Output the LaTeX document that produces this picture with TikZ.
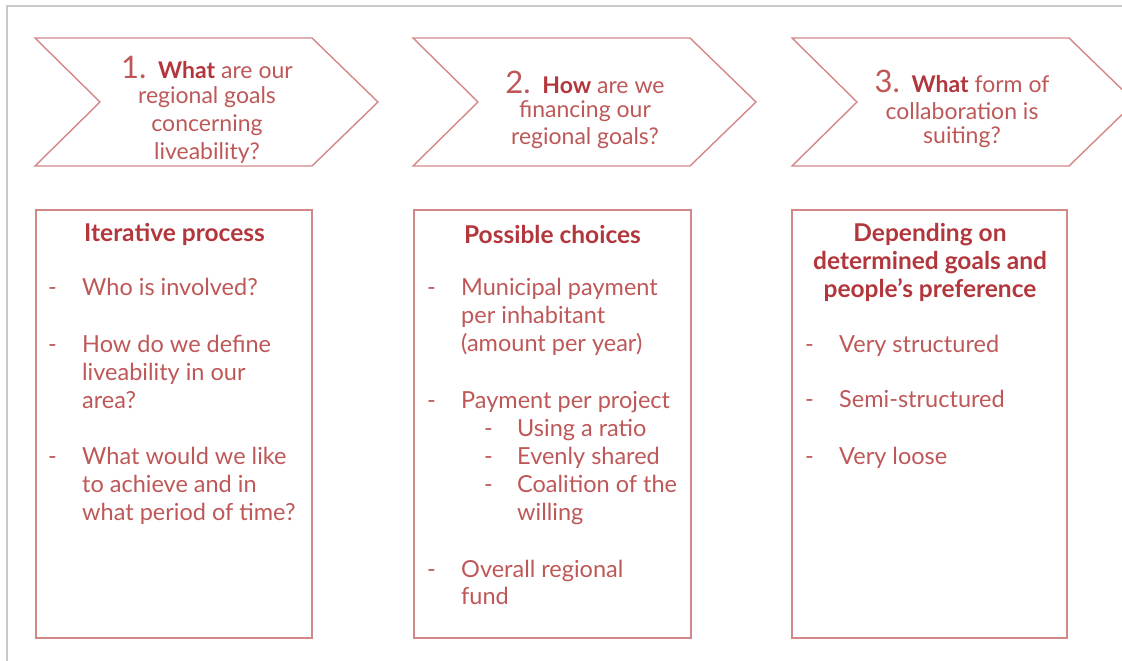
\documentclass[tikz,border=0pt]{standalone}
\usepackage{fontspec}
\setmainfont{Lato}
\definecolor{linecol}{RGB}{212,135,135}
\definecolor{txtcol}{RGB}{190,88,88}
\definecolor{boldcol}{RGB}{178,55,60}
\definecolor{framecol}{RGB}{200,200,200}
\tikzset{
  chev/.style={draw=linecol, line width=1.4pt, line join=miter},
  boxst/.style={draw=linecol, line width=1.4pt, rectangle, inner sep=0pt},
  ctxt/.style={font=\fontsize{23}{28}\selectfont, text=txtcol, inner sep=0pt, yshift=-1.5pt},
  txt/.style={font=\fontsize{23.5}{28}\selectfont, text=txtcol, inner sep=0pt, yshift=-4.5pt},
  ttl/.style={font=\fontsize{24.5}{28}\selectfont\bfseries, text=boldcol, inner sep=0pt, yshift=-2pt},
  hyph/.style={txt, anchor=mid west},
  item/.style={txt, anchor=mid west},
}
\newcommand{\bignum}[1]{{\fontsize{31}{31}\selectfont #1}}
\newcommand{\bw}[1]{{\bfseries\color{boldcol}#1}}
\begin{document}
\begin{tikzpicture}[x=1pt,y=-1pt]
\useasboundingbox (0,0) rectangle (1122,661);
% outer frame
\draw[framecol, line width=1.5pt] (7,661) -- (7,6) -- (1122,6);
% chevrons
\foreach \L/\n in {35/1,413/2,792/3}{
  \draw[chev] (\L,38) -- (\L+277,38) -- (\L+343,102) -- (\L+277,166) -- (\L,166) -- (\L+65,102) -- cycle;
  \coordinate (chev\n) at (\L+171,102);
}
% chevron texts
\node[ctxt] (c1a) at (207,66) {\bignum{1.}\, \bw{What} are our};
\node[ctxt] (c1b) at (207,96) {regional goals};
\node[ctxt] (c1c) at (207,124) {concerning};
\node[ctxt] (c1d) at (207,152) {liveability?};
\node[ctxt] (c2a) at (585,81) {\bignum{2.}\, \bw{How} are we};
\node[ctxt] (c2b) at (585,110) {financing our};
\node[ctxt] (c2c) at (585,137) {regional goals?};
\node[ctxt] (c3a) at (962,80) {\bignum{3.}\, \bw{What} form of};
\node[ctxt] (c3b) at (962,110) {collaboration is};
\node[ctxt] (c3c) at (962,136) {suiting?};
% boxes
\node[boxst, minimum width=276pt, minimum height=428pt] (box1) at (174,424) {};
\node[boxst, minimum width=277pt, minimum height=428pt] (box2) at (552.5,424) {};
\node[boxst, minimum width=275pt, minimum height=428pt] (box3) at (929.5,424) {};
% box 1
\node[ttl] (t1) at (174.5,232) {Iterative process};
\node[hyph] (d1a) at (48,288) {-};
\node[item] (i1a) at (82,288) {Who is involved?};
\node[hyph] (d1b) at (48,345) {-};
\node[item] (i1b) at (82,345) {How do we define};
\node[item] (i1c) at (82,373) {liveability in our};
\node[item] (i1d) at (82,401) {area?};
\node[hyph] (d1e) at (48,457) {-};
\node[item] (i1e) at (82,457) {What would we like};
\node[item] (i1f) at (82,485) {to achieve and in};
\node[item] (i1g) at (82,513) {what period of time?};
% box 2
\node[ttl] (t2) at (552.5,232) {Possible choices};
\node[hyph] (d2a) at (427,288) {-};
\node[item] (i2a) at (461,288) {Municipal payment};
\node[item] (i2b) at (461,316) {per inhabitant};
\node[item] (i2c) at (461,344) {(amount per year)};
\node[hyph] (d2d) at (427,401) {-};
\node[item] (i2d) at (461,401) {Payment per project};
\node[hyph] (d2e) at (484,429) {-};
\node[item] (i2e) at (517,429) {Using a ratio};
\node[hyph] (d2f) at (484,457) {-};
\node[item] (i2f) at (517,457) {Evenly shared};
\node[hyph] (d2g) at (484,485) {-};
\node[item] (i2g) at (517,485) {Coalition of the};
\node[item] (i2h) at (517,513) {willing};
\node[hyph] (d2i) at (427,570) {-};
\node[item] (i2i) at (461,570) {Overall regional};
\node[item] (i2j) at (461,597) {fund};
% box 3
\node[ttl] (t3a) at (930,233) {Depending on};
\node[ttl] (t3b) at (930,261) {determined goals and};
\node[ttl] (t3c) at (930,288) {people’s preference};
\node[hyph] (d3a) at (805,345) {-};
\node[item] (i3a) at (839,345) {Very structured};
\node[hyph] (d3b) at (805,400) {-};
\node[item] (i3b) at (839,400) {Semi-structured};
\node[hyph] (d3c) at (805,457) {-};
\node[item] (i3c) at (839,457) {Very loose};
\end{tikzpicture}
\end{document}
